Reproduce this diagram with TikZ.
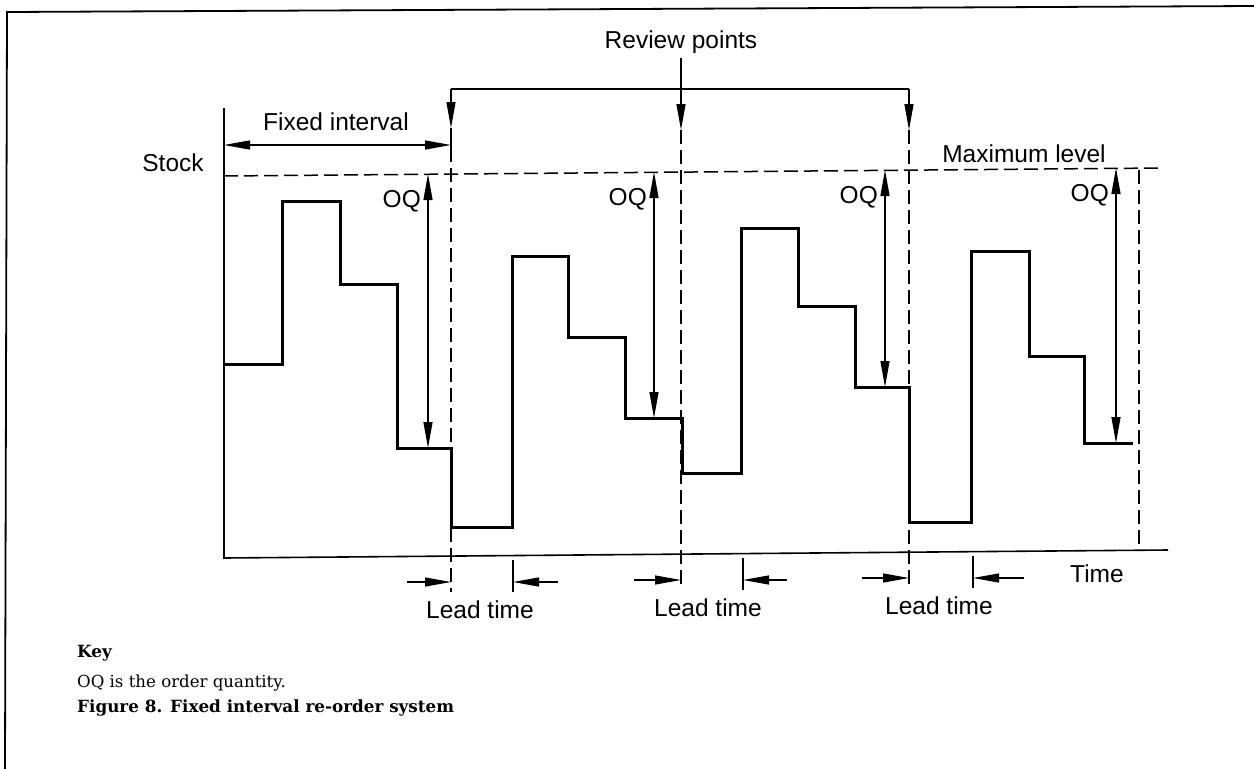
\documentclass[tikz,border=0pt]{standalone}
\usepackage{fontspec}
\newfontfamily\lab{Liberation Sans}
\newfontfamily\keyfont{DejaVu Serif}
\usetikzlibrary{arrows.meta}
\begin{document}
\begin{tikzpicture}[x=1pt,y=-1pt,
  lbl/.style={font=\lab\fontsize{24.5}{28}\selectfont, inner sep=0pt},
  keytxt/.style={font=\keyfont\fontsize{16.6}{20}\selectfont, inner sep=0pt, anchor=west},
  keyhd/.style={font=\keyfont\bfseries\fontsize{16.8}{20}\selectfont, inner sep=0pt, anchor=west},
  stepline/.style={line width=3pt, line join=miter},
  axisline/.style={line width=1.6pt},
  dsh/.style={line width=1.5pt, dash pattern=on 14pt off 6pt},
  thin/.style={line width=1.2pt},
  dimr/.style={line width=1.2pt, -{Triangle[length=26pt,width=9pt]}},
  dimb/.style={line width=1.2pt, {Triangle[length=26pt,width=9pt]}-{Triangle[length=26pt,width=9pt]}},
]
\useasboundingbox (0,0) rectangle (1254,769);
% frame
\draw[line width=1.8pt] (5,769) -- (7,12) -- (1254,6);
% axes
\coordinate (yt) at (224,108);
\coordinate (org) at (224,558);
\coordinate (xe) at (1168,550);
\draw[axisline] (yt) -- (org) -- (xe);
% maximum level
\coordinate (m0) at (224,176);
\coordinate (m1) at (1162,168);
\draw[dsh] (m0) -- (m1);
% stock curve
\draw[stepline] (224,364) -- (282,364) -- (282,201) -- (340,201) -- (340,284) -- (397,284) -- (397,448) -- (451,448) -- (451,527) -- (512,527) -- (512,256) -- (568,256) -- (568,337) -- (625,337) -- (625,418) -- (682,418) -- (682,473) -- (741,473) -- (741,228) -- (798,228) -- (798,306) -- (855,306) -- (855,387) -- (909,387) -- (909,522) -- (971,522) -- (971,251) -- (1029,251) -- (1029,356) -- (1084,356) -- (1084,443) -- (1133,443);
% labels
\node[lbl] (stock) at (173,163) {Stock};
\node[lbl] (fixed) at (336,122) {Fixed interval};
\node[lbl] (review) at (681,42) {Review points};
\node[lbl] (maxl) at (1024,154) {Maximum level};
\node[lbl] (time) at (1097,574) {Time};
% fixed interval
\coordinate (f0) at (224,145);
\coordinate (f1) at (451,145);
\draw[dimb] (f0) -- (f1);
\draw[thin] (451,136) -- (451,155);
% review points
\coordinate (rb0) at (451,89);
\coordinate (rb1) at (909,89);
\coordinate (r0) at (451,128);
\coordinate (r1) at (681,130);
\coordinate (r2) at (909,130);
\draw[thin] (rb0) -- (rb1);
\draw[dimr] (rb0) -- (r0);
\draw[dimr] (rb1) -- (r2);
\draw[dimr, shorten <=4pt] (review.south) -- (r1);
\coordinate (d0) at (451,592);
\coordinate (d1) at (681,590);
\coordinate (d2) at (909,588);
\draw[dsh] (r0) -- (d0);
\draw[dsh] (r1) -- (d1);
\draw[dsh] (r2) -- (d2);
\draw[dsh] (1139,170) -- (1139,550);
% OQ
\foreach \x/\t/\b/\n in {428/174/448/a, 654/172/418/b, 885/170/387/c, 1116/168/443/d}{
  \coordinate (oqt\n) at (\x,\t);
  \coordinate (oqb\n) at (\x,\b);
  \draw[dimb] (oqt\n) -- (oqb\n);
  \node[lbl, anchor=east] (oq\n) at ([xshift=-7pt,yshift=-27pt]oqt\n) {OQ};
}
% lead times
\foreach \a/\b/\c/\d/\y/\n in {407/451/513/558/582/a, 634/681/743/787/580/b, 862/909/973/1024/578/c}{
  \coordinate (la\n) at (\a,\y);
  \coordinate (lb\n) at (\b,\y);
  \coordinate (lc\n) at (\c,\y);
  \coordinate (ld\n) at (\d,\y);
  \draw[dimr] (la\n) -- (lb\n);
  \draw[dimr] (ld\n) -- (lc\n);
  \draw[thin] ([yshift=22pt]lc\n) -- ([yshift=-10pt]lc\n);
}
\node[lbl] (lt1) at (480,610) {Lead time};
\node[lbl] (lt2) at (708,608) {Lead time};
\node[lbl] (lt3) at (939,606) {Lead time};
% key
\node[keyhd] (key) at (77,653) {Key};
\node[keytxt] (keyline) at (77,683) {OQ is the order quantity.};
\node[keyhd] (cap) at (77,708) {Figure 8. Fixed interval re-order system};
\end{tikzpicture}
\end{document}
